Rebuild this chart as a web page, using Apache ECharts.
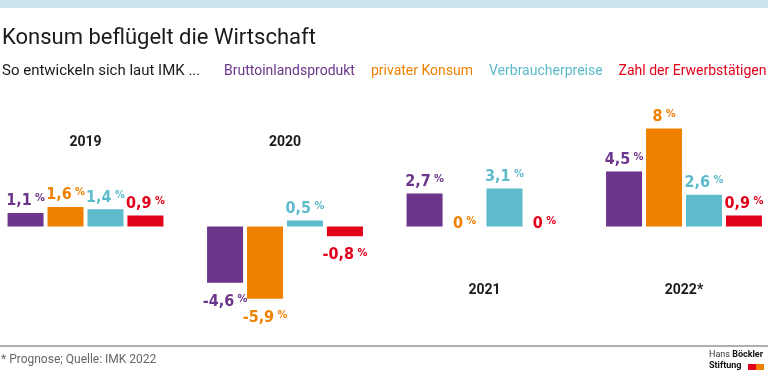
<!DOCTYPE html>
<html>
<head>
<meta charset="utf-8">
<script src="https://cdn.jsdelivr.net/npm/echarts@6/dist/echarts.min.js"></script>
<style>
html,body{margin:0;padding:0;background:#fff;}
#chart{width:768px;height:389px;}
</style>
</head>
<body>
<div id="chart"></div>
<script>
// ---- data ----
var categories = ['2019', '2020', '2021', '2022*'];
var topYears = ['2019', '2020'];
var bottomYears = ['2021', '2022*'];
var seriesNames = ['Bruttoinlandsprodukt', 'privater Konsum', 'Verbraucherpreise', 'Zahl der Erwerbstätigen'];
var bip = [1.1, -4.6, 2.7, 4.5];
var konsum = [1.6, -5.9, 0, 8];
var preise = [1.4, 0.5, 3.1, 2.6];
var erwerb = [0.9, -0.8, 0, 0.9];

var colors = ['#6c358b', '#f08100', '#5dbbcb', '#e3001b'];
var TXT = 'Roboto, "Liberation Sans", sans-serif';
var NUMFONT = '"DejaVu Sans Condensed", Roboto, sans-serif';

function fmt(v) { return String(v).replace('.', ','); }

function makeSeries(name, values, color) {
  return {
    name: name,
    type: 'bar',
    barWidth: 36,
    barGap: '11%',
    itemStyle: { color: color },
    data: values.map(function (v) {
      var lab = { position: v < 0 ? 'bottom' : 'top', distance: v < 0 ? 11 : 4 };
      if (v === 0) { lab.offset = [0, 9]; }
      return { value: v, label: lab };
    }),
    label: {
      show: true,
      color: color,
      formatter: function (p) { return '{v|' + fmt(p.value) + '} {p|%}'; },
      rich: {
        v: { fontFamily: NUMFONT, fontWeight: 'bold', fontSize: 16, color: color },
        p: { fontFamily: NUMFONT, fontWeight: 'bold', fontSize: 11, color: color, verticalAlign: 'top', padding: [0, 0, 3, 0] }
      }
    }
  };
}

var chart = echarts.init(document.getElementById('chart'), null, { renderer: 'canvas' });
chart.setOption({
  animation: false,
  backgroundColor: '#fff',
  title: [
    { text: 'Konsum beflügelt die Wirtschaft', left: 2, top: 27, padding: 0,
      textStyle: { fontFamily: TXT, fontWeight: 'normal', fontSize: 22, color: '#1a1a1a' } },
    { text: 'So entwickeln sich laut IMK ...', left: 2, top: 64, padding: 0,
      textStyle: { fontFamily: TXT, fontWeight: 'normal', fontSize: 15, color: '#1a1a1a' } },
    { text: '* Prognose; Quelle: IMK 2022', left: 1, top: 354, padding: 0,
      textStyle: { fontFamily: TXT, fontWeight: 'normal', fontSize: 12, color: '#666' } }
  ],
  legend: {
    left: 219, top: 64, width: 560, padding: 0,
    icon: 'none', itemWidth: 0, itemHeight: 10, itemGap: 11,
    selectedMode: false,
    data: seriesNames.map(function (n, i) {
      return { name: n, textStyle: { color: colors[i] } };
    }),
    textStyle: { fontFamily: TXT, fontSize: 14 }
  },
  grid: { left: -14.25, right: -15.75, top: 128.5, bottom: 76.75, containLabel: false, outerBoundsMode: 'none' },
  xAxis: [
    { type: 'category', data: categories, position: 'top', offset: -21,
      axisLine: { show: false, onZero: false }, axisTick: { show: false },
      axisLabel: { margin: 0, fontFamily: TXT, fontWeight: 'bold', fontSize: 14, color: '#1a1a1a',
        formatter: function (v) { return topYears.indexOf(v) >= 0 ? v : ''; } } },
    { type: 'category', data: categories, position: 'bottom', offset: -28.5,
      axisLine: { show: false, onZero: false }, axisTick: { show: false },
      axisLabel: { margin: 0, fontFamily: TXT, fontWeight: 'bold', fontSize: 14, color: '#1a1a1a',
        formatter: function (v) { return bottomYears.indexOf(v) >= 0 ? v : ''; } } }
  ],
  yAxis: { type: 'value', min: -7, max: 8, show: false, splitLine: { show: false } },
  series: [
    makeSeries(seriesNames[0], bip, colors[0]),
    makeSeries(seriesNames[1], konsum, colors[1]),
    makeSeries(seriesNames[2], preise, colors[2]),
    makeSeries(seriesNames[3], erwerb, colors[3])
  ],
  graphic: [
    { type: 'rect', shape: { x: 0, y: 0, width: 768, height: 8 }, style: { fill: '#c9e4ee' }, silent: true },
    { type: 'rect', shape: { x: 0, y: 345, width: 768, height: 2 }, style: { fill: '#b0b0b0' }, silent: true },
    { type: 'text', x: 709, y: 350, style: { text: 'Hans {b|Böckler}', font: '9px Roboto', fill: '#333',
        rich: { b: { fontFamily: 'Roboto', fontWeight: 'bold', fontSize: 9, fill: '#111' } } } },
    { type: 'text', x: 709, y: 361, style: { text: 'Stiftung', font: 'bold 9px Roboto', fill: '#111' } },
    { type: 'rect', shape: { x: 748, y: 364, width: 8, height: 6 }, style: { fill: '#e3001b' } },
    { type: 'rect', shape: { x: 756, y: 364, width: 8, height: 6 }, style: { fill: '#f08100' } }
  ]
});
</script>
</body>
</html>
